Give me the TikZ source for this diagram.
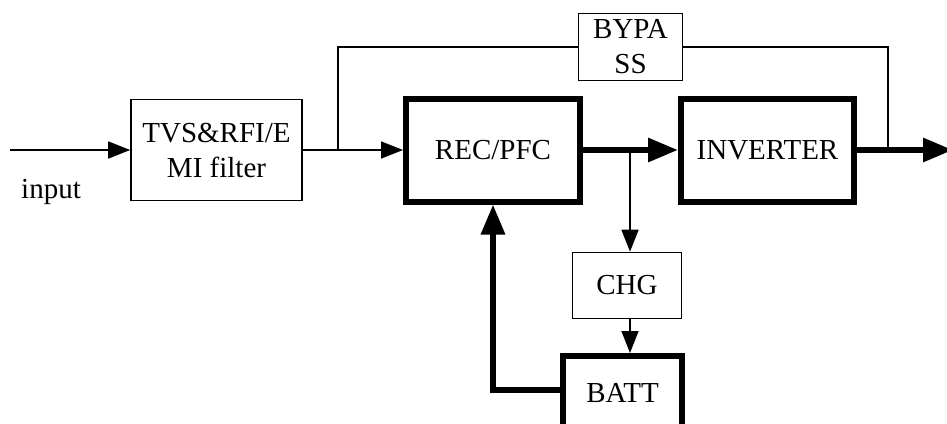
\documentclass[tikz,border=0pt]{standalone}
\usepackage{fontspec}
\setmainfont{Liberation Serif}
\usetikzlibrary{arrows.meta}
\begin{document}
\begin{tikzpicture}[x=0.5pt,y=-0.5pt,
    every node/.style={font=\fontsize{14.5}{17.5}\selectfont},
    blk/.style={draw,line width=0.8pt,align=center,inner sep=0pt},
    bigblk/.style={draw,line width=3pt,align=center,inner sep=0pt},
    thin/.style={line width=0.8pt},
    thinarr/.style={line width=0.8pt,-{Triangle[length=11pt,width=8.5pt]}},
    thickarr/.style={line width=3pt,-{Triangle[length=15pt,width=11.5pt]}}]
      \useasboundingbox (0,0) rectangle (947,423);
      \node[blk,minimum width=85.5pt,minimum height=50.5pt] (filter) at (216.5,150) {TVS\&RFI/E\\MI filter};
      \node[blk,minimum width=52pt,minimum height=33.5pt] (bypass) at (630.5,47) {BYPA\\SS};
      \node[bigblk,minimum width=87pt,minimum height=51.5pt] (rec) at (493,150) {REC/PFC};
      \node[bigblk,minimum width=86.5pt,minimum height=51.5pt] (inv) at (767.5,150) {INVERTER};
      \node[blk,minimum width=54.5pt,minimum height=33pt] (chg) at (627,285.5) {CHG};
      \node[bigblk,minimum width=59.5pt,minimum height=37pt] (batt) at (622.5,393) {BATT};
      \node (input) at (51,192) {input};
      \coordinate (in) at (10,150);
      \coordinate (split) at (338,150);
      \coordinate (tap) at (630,150);
      \coordinate (join) at (888,150);
      \coordinate (out) at (953,150);
      \begin{scope}
        \draw[thinarr] (in) to (filter.west);
        \draw[thinarr] (filter.east) to (rec.west);
        \draw[thin] (split) |- (bypass.west);
        \draw[thin] (bypass.east) -| (join);
        \draw[thickarr] (rec.east) to (inv.west);
        \draw[thinarr] (tap) to (tap |- chg.north);
        \draw[thinarr] (tap |- chg.south) to (tap |- batt.north);
        \draw[thickarr] ([yshift=1.5pt]batt.west) -| (rec.south);
        \draw[thickarr] (inv.east) to (out);
      \end{scope}
    \end{tikzpicture}
\end{document}
